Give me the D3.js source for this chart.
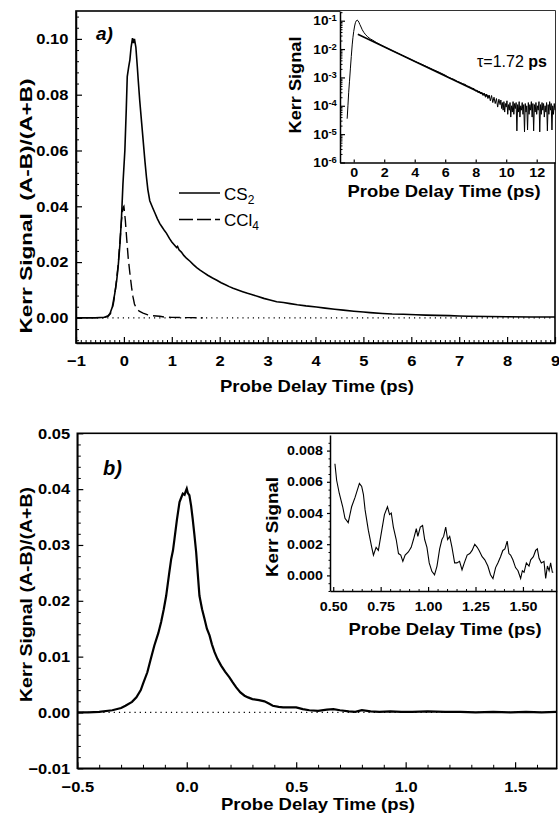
<!DOCTYPE html>
<html>
<head>
<meta charset="utf-8">
<script src="https://cdn.jsdelivr.net/npm/d3@7"></script>
<style>
  body { margin: 0; background: #fff; }
  text { font-family: "Liberation Sans", Arial, sans-serif; fill: #000; }
</style>
</head>
<body>
<svg id="chart"></svg>
<script>
// ---------------------------------------------------------------
// DATA
// ---------------------------------------------------------------

// panel a) main: CS2 and CCl4 Kerr transients
const cs2Time = [-1.0, -0.6, -0.4, -0.33, -0.29, -0.24, -0.19, -0.15, -0.12, -0.08, -0.05, -0.02, 0.02, 0.05, 0.07, 0.10, 0.125, 0.15, 0.18, 0.20, 0.22, 0.25, 0.28, 0.30, 0.33, 0.37, 0.40, 0.44, 0.47, 0.50, 0.54, 0.60, 0.65, 0.70, 0.75, 0.80, 0.85, 0.89, 0.95, 1.00, 1.05, 1.10, 1.12, 1.15, 1.20, 1.25, 1.31, 1.38, 1.45, 1.52, 1.59, 1.66, 1.75, 1.85, 1.94, 2.03, 2.12, 2.20, 2.28, 2.38, 2.48, 2.58, 2.70, 2.80, 2.92, 3.05, 3.19, 3.33, 3.47, 3.62, 3.80, 4.02, 4.20, 4.40, 4.58, 4.80, 5.00, 5.14, 5.40, 5.60, 5.83, 6.10, 6.30, 6.53, 6.80, 7.00, 7.20, 7.60, 8.00, 8.50, 9.00];
const cs2Signal = [0, 0, 0.0002, 0.0008, 0.0016, 0.0040, 0.0088, 0.0135, 0.0183, 0.027, 0.036, 0.048, 0.060, 0.075, 0.0865, 0.090, 0.0925, 0.097, 0.1003, 0.0985, 0.1000, 0.097, 0.090, 0.085, 0.078, 0.070, 0.064, 0.056, 0.0506, 0.046, 0.042, 0.0395, 0.0375, 0.0355, 0.0338, 0.0325, 0.0312, 0.0303, 0.0285, 0.0272, 0.0262, 0.0252, 0.0256, 0.0244, 0.0236, 0.0224, 0.0213, 0.0203, 0.0191, 0.0180, 0.0171, 0.0163, 0.0153, 0.0143, 0.0135, 0.0126, 0.0119, 0.0112, 0.0106, 0.0100, 0.0094, 0.0088, 0.0082, 0.0077, 0.0070, 0.0064, 0.0058, 0.0055, 0.0051, 0.0047, 0.0043, 0.0039, 0.0035, 0.0031, 0.0028, 0.0024, 0.0021, 0.0019, 0.0016, 0.0014, 0.0013, 0.0011, 0.0010, 0.0009, 0.0008, 0.0007, 0.0006, 0.0005, 0.0004, 0.0003, 0.0003];

const ccl4Time = [-0.45, -0.33, -0.28, -0.22, -0.17, -0.12, -0.08, -0.05, -0.02, 0.00, 0.03, 0.06, 0.09, 0.125, 0.16, 0.19, 0.22, 0.26, 0.32, 0.40, 0.50, 0.60, 0.75, 0.85, 1.00, 1.20, 1.40, 1.65];
const ccl4Signal = [0, 0.0005, 0.0015, 0.0050, 0.0110, 0.0190, 0.0280, 0.0350, 0.0395, 0.0400, 0.0350, 0.0280, 0.0215, 0.0160, 0.0110, 0.0075, 0.0050, 0.0034, 0.0024, 0.0017, 0.0011, 0.0008, 0.0006, 0.0003, 0.0002, 0.0001, 0.0001, 0];

// panel a) inset: CS2 on a log scale, with single exponential fit
const logTime = [-0.43, -0.38, -0.33, -0.28, -0.22, -0.16, -0.10, -0.05, 0.00, 0.06, 0.11, 0.17, 0.22, 0.28, 0.34, 0.40, 0.48, 0.56, 0.66, 0.78, 0.92, 1.08, 1.25, 1.50, 1.75, 2.00, 2.30, 2.60, 3.00, 3.30, 3.60, 4.00, 4.40, 4.80, 5.20, 5.60,
    6.00, 6.20, 6.40, 6.60, 6.80, 7.00, 7.15, 7.30, 7.45, 7.60, 7.75, 7.90,
    8.00, 8.08, 8.16, 8.24, 8.32, 8.40, 8.48, 8.56, 8.64, 8.72, 8.80, 8.88, 8.96, 9.04, 9.12, 9.20, 9.28, 9.36, 9.44, 9.52,
    9.60, 9.65, 9.70, 9.75, 9.80, 9.85, 9.90, 9.95, 10.00, 10.05, 10.10, 10.15, 10.20, 10.25, 10.30, 10.35, 10.40, 10.45, 10.50, 10.55, 10.60, 10.65, 10.70, 10.75, 10.80, 10.85, 10.90, 10.95,
    11.00, 11.05, 11.10, 11.15, 11.20, 11.25, 11.30, 11.35, 11.40, 11.45, 11.50, 11.55, 11.60, 11.65, 11.70, 11.75, 11.80, 11.85, 11.90, 11.95,
    12.00, 12.05, 12.10, 12.15, 12.20, 12.25, 12.30, 12.35, 12.40, 12.45, 12.50, 12.55, 12.60, 12.65, 12.70, 12.75, 12.80, 12.85, 12.90, 12.95, 13.00, 13.05, 13.10, 13.15, 13.20];
const logSignal = [3.5e-5, 1.0e-4, 3.0e-4, 7.0e-4, 2.0e-3, 5.5e-3, 0.014, 0.026, 0.042, 0.065, 0.085, 0.100, 0.106, 0.100, 0.088, 0.074, 0.060, 0.048, 0.039, 0.032, 0.027, 0.023, 0.0205, 0.0168, 0.0142, 0.0121, 0.0101, 0.0084, 0.0067, 0.0056, 0.0047, 0.0037, 0.0030, 0.0024, 0.0019, 0.00153,
    1.20e-3, 1.02e-3, 0.92e-3, 0.84e-3, 0.72e-3, 0.66e-3, 0.60e-3, 0.57e-3, 0.50e-3, 0.47e-3, 0.42e-3, 0.40e-3,
    3.3e-4, 3.6e-4, 2.9e-4, 3.3e-4, 2.6e-4, 3.0e-4, 2.3e-4, 2.8e-4, 2.0e-4, 2.6e-4, 1.8e-4, 2.4e-4, 1.5e-4, 2.3e-4, 1.3e-4, 2.0e-4, 1.2e-4, 1.8e-4, 9e-5, 1.7e-4,
    1.1e-4, 1.6e-4, 8e-5, 1.3e-4, 7e-5, 1.4e-4, 6e-5, 1.2e-4, 9e-5, 1.5e-4, 5e-5, 1.1e-4, 7e-5, 1.3e-4, 4e-5, 1.0e-4, 6e-5, 1.4e-4, 5e-5, 1.2e-4, 8e-5, 1.3e-4, 1.3e-5, 1.1e-4, 6e-5, 1.4e-4, 4e-5, 1.0e-4,
    7e-5, 1.3e-4, 5e-5, 1.1e-4, 1.2e-5, 1.2e-4, 6e-5, 1.0e-4, 1.4e-5, 1.3e-4, 5e-5, 1.1e-4, 7e-5, 1.4e-4, 4e-5, 1.2e-4, 1.3e-5, 1.1e-4, 6e-5, 1.3e-4,
    5e-5, 1.0e-4, 7e-5, 1.4e-4, 1.2e-5, 1.1e-4, 5e-5, 1.3e-4, 7e-5, 1.2e-4, 4e-5, 1.0e-4, 6e-5, 1.3e-4, 1.3e-5, 1.1e-4, 5e-5, 1.4e-4, 7e-5, 1.2e-4, 1.4e-5, 1.0e-4, 5e-5, 1.2e-4, 7e-5];
const fitTime = [0.27, 8.93];
const fitSignal = [0.0331, 0.0002];
const tauLabel = "τ=1.72 ";

// panel b) main: CCl4 transient
const bTime = [-0.50, -0.45, -0.40, -0.34, -0.30, -0.28, -0.25, -0.23, -0.21, -0.20, -0.18, -0.165, -0.148, -0.13, -0.117, -0.105, -0.094, -0.08, -0.071, -0.063, -0.056, -0.045, -0.033, -0.025, -0.018, -0.010, -0.004, 0.000, 0.005, 0.012, 0.020, 0.027, 0.035, 0.043, 0.050, 0.058, 0.070, 0.081, 0.092, 0.104, 0.115, 0.127, 0.140, 0.157, 0.175, 0.195, 0.210, 0.226, 0.245, 0.264, 0.28, 0.30, 0.33, 0.355, 0.375, 0.393, 0.42, 0.44, 0.47, 0.50, 0.53, 0.56, 0.60, 0.64, 0.67, 0.70, 0.74, 0.77, 0.80, 0.84, 0.88, 0.93, 0.98, 1.03, 1.10, 1.18, 1.25, 1.32, 1.40, 1.48, 1.55, 1.62, 1.69];
const bSignal = [0, 0, 0.0001, 0.0004, 0.0008, 0.0012, 0.0019, 0.0027, 0.0040, 0.0051, 0.0072, 0.0095, 0.0120, 0.0142, 0.0162, 0.0185, 0.0209, 0.0250, 0.0275, 0.0290, 0.0311, 0.0345, 0.0377, 0.0385, 0.0392, 0.0390, 0.0397, 0.0401, 0.0393, 0.0389, 0.0370, 0.0347, 0.0318, 0.0287, 0.0250, 0.0209, 0.0185, 0.0168, 0.0150, 0.0138, 0.0122, 0.0108, 0.0096, 0.0084, 0.0073, 0.0063, 0.0054, 0.0045, 0.0036, 0.0030, 0.0027, 0.0024, 0.0022, 0.0020, 0.0016, 0.0012, 0.0010, 0.0009, 0.0009, 0.0009, 0.0006, 0.0004, 0.0003, 0.0005, 0.0006, 0.0004, 0.0002, 0.0001, 0.0004, 0.0002, 0.0001, 0.0002, 0.0001, 0.0001, 0.0002, 0.0001, 0.0001, 0, 0.0001, 0, 0.0001, 0, 0.0001];

// panel b) inset: oscillating tail
const oscTime = [0.509, 0.518, 0.532, 0.550, 0.562, 0.579, 0.597, 0.615, 0.638, 0.650, 0.659, 0.668, 0.685, 0.703, 0.712, 0.726, 0.738, 0.756, 0.770, 0.786, 0.797, 0.806, 0.817, 0.832, 0.844, 0.856, 0.867, 0.879, 0.896, 0.911, 0.923, 0.938, 0.946, 0.959, 0.971, 0.982, 0.994, 1.006, 1.020, 1.034, 1.047, 1.061, 1.073, 1.082, 1.093, 1.103, 1.114, 1.126, 1.140, 1.152, 1.166, 1.179, 1.191, 1.206, 1.220, 1.232, 1.246, 1.259, 1.269, 1.285, 1.299, 1.315, 1.329, 1.342, 1.356, 1.368, 1.382, 1.394, 1.405, 1.417, 1.426, 1.435, 1.447, 1.461, 1.474, 1.488, 1.497, 1.506, 1.518, 1.532, 1.541, 1.555, 1.567, 1.576, 1.585, 1.597, 1.611, 1.620, 1.629, 1.638, 1.646, 1.655, 1.660];
const oscSignal = [0.00716, 0.0061, 0.00525, 0.0044, 0.00366, 0.00338, 0.0044, 0.0050, 0.0059, 0.0057, 0.0052, 0.0042, 0.0029, 0.0018, 0.0013, 0.0018, 0.0016, 0.0029, 0.0039, 0.0044, 0.0039, 0.0040, 0.0031, 0.0023, 0.0014, 0.0013, 0.0009, 0.0013, 0.0015, 0.0018, 0.0023, 0.0030, 0.0025, 0.0031, 0.0032, 0.0023, 0.0018, 0.0008, 0.00026, 0.00004, 0.0006, 0.0017, 0.0023, 0.0025, 0.0031, 0.0023, 0.0025, 0.0018, 0.0008, 0.0008, 0.0009, 0.00036, 0.0008, 0.0013, 0.0014, 0.0016, 0.0020, 0.0018, 0.0016, 0.0012, 0.0010, 0.0006, 0.00004, -0.0002, 0.0005, 0.0008, 0.0012, 0.0016, 0.0017, 0.0022, 0.0014, 0.0013, 0.0010, 0.0005, 0.0003, -0.0002, 0.0003, 0.0002, 0.0008, 0.0006, 0.0010, 0.0012, 0.0016, 0.0017, 0.0011, 0.0008, 0.0009, -0.0002, 0.0006, 0.0003, 0.0008, 0.0002, 0.0002];

// axis tick labels
const aTicksX = [-1, 0, 1, 2, 3, 4, 5, 6, 7, 8, 9];
const aTicksY = [0, 0.02, 0.04, 0.06, 0.08, 0.10];
const insetATicksX = [0, 2, 4, 6, 8, 10, 12];
const insetATicksY = [1e-1, 1e-2, 1e-3, 1e-4, 1e-5, 1e-6];
const insetAExp = ["-1", "-2", "-3", "-4", "-5", "-6"];
const bTicksX = [-0.5, 0.0, 0.5, 1.0, 1.5];
const bTicksY = [-0.01, 0, 0.01, 0.02, 0.03, 0.04, 0.05];
const insetBTicksX = [0.50, 0.75, 1.00, 1.25, 1.50];
const insetBTicksY = [0, 0.002, 0.004, 0.006, 0.008];

// ---------------------------------------------------------------
// SVG
// ---------------------------------------------------------------
const width = 559, height = 814;
const svg = d3.select("#chart").attr("width", width).attr("height", height);

const toPts = (xs, ys) => xs.map((x, i) => [x, ys[i]]);

function addText(x, y, str, o = {}) {
    let tr = `translate(${x},${y})`;
    if (o.rotate) tr += ` rotate(${o.rotate})`;
    if (o.sx) tr += ` scale(${o.sx},1)`;
    const t = svg.append("text")
        .attr("transform", tr)
        .attr("text-anchor", o.anchor || "middle")
        .attr("font-size", o.size || 17)
        .attr("font-weight", o.weight || "bold")
        .attr("font-style", o.style || "normal")
        .style("white-space", "pre")
        .text(str);
    if (o.len) t.attr("textLength", o.len).attr("lengthAdjust", "spacingAndGlyphs");
    return t;
}

function styleAxis(g, size, sx) {
    g.attr("font-family", null).attr("font-size", size).attr("font-weight", "bold");
    g.selectAll(".tick text").attr("transform", `scale(${sx},1)`);
    g.selectAll(".tick line").attr("stroke-width", 1.2);
    g.select(".domain").attr("stroke-width", 1.5);
}

function minorAxis(axisFn, scale, values, size, tr) {
    svg.append("g")
        .attr("transform", tr)
        .call(axisFn(scale).tickValues(values).tickSize(size).tickFormat(""))
        .call(g => g.select(".domain").remove())
        .call(g => g.selectAll(".tick line").attr("stroke-width", 1));
}

// ---------------------------------------------------------------
// PANEL a) MAIN
// ---------------------------------------------------------------
const xA = d3.scaleLinear().domain([-1, 9]).range([76, 555]);
const yA = d3.scaleLinear().domain([-0.009, 0.11]).range([343, 11]);

svg.append("line")
    .attr("x1", xA(-1)).attr("x2", xA(9)).attr("y1", yA(0)).attr("y2", yA(0))
    .attr("stroke", "#000").attr("stroke-width", 1.2).attr("stroke-dasharray", "1.2,4");

minorAxis(d3.axisBottom, xA, d3.range(-10, 91).filter(i => i % 10).map(i => i / 10), -3, `translate(0,${yA.range()[0]})`);
minorAxis(d3.axisLeft, yA, d3.range(-2, 28).filter(i => i % 5).map(i => i * 0.004), -3, `translate(${xA.range()[0]},0)`);

svg.append("g")
    .attr("transform", `translate(0,${yA.range()[0]})`)
    .call(d3.axisBottom(xA).tickValues(aTicksX).tickSizeInner(-6).tickSizeOuter(0).tickPadding(12).tickFormat(d3.format("d")))
    .call(g => styleAxis(g, 15, 1.1));

svg.append("g")
    .attr("transform", `translate(${xA.range()[0]},0)`)
    .call(d3.axisLeft(yA).tickValues(aTicksY).tickSizeInner(-6).tickSizeOuter(0).tickPadding(7).tickFormat(d3.format(".2f")))
    .call(g => styleAxis(g, 15, 1.1));

svg.append("rect")
    .attr("x", xA.range()[0]).attr("y", yA.range()[1])
    .attr("width", xA.range()[1] - xA.range()[0]).attr("height", yA.range()[0] - yA.range()[1])
    .attr("fill", "none").attr("stroke", "#000").attr("stroke-width", 1.6);

const lineA = d3.line().x(d => xA(d[0])).y(d => yA(d[1])).curve(d3.curveLinear);

svg.append("path").datum(toPts(ccl4Time, ccl4Signal))
    .attr("d", lineA).attr("fill", "none").attr("stroke", "#000")
    .attr("stroke-width", 1.4).attr("stroke-dasharray", "11,5");

svg.append("path").datum(toPts(cs2Time, cs2Signal))
    .attr("d", lineA).attr("fill", "none").attr("stroke", "#000").attr("stroke-width", 1.6);

// legend
svg.append("line").attr("x1", 179).attr("x2", 220).attr("y1", 193).attr("y2", 193)
    .attr("stroke", "#000").attr("stroke-width", 1.4);
svg.append("line").attr("x1", 179).attr("x2", 220).attr("y1", 219.5).attr("y2", 219.5)
    .attr("stroke", "#000").attr("stroke-width", 1.4).attr("stroke-dasharray", "14,4");
const lg1 = addText(224, 200, "CS", { anchor: "start", weight: "normal", size: 17 });
lg1.append("tspan").attr("dy", 4).attr("font-size", 12).text("2");
const lg2 = addText(224, 226, "CCl", { anchor: "start", weight: "normal", size: 17 });
lg2.append("tspan").attr("dy", 4).attr("font-size", 12).text("4");

addText(96, 40, "a)", { anchor: "start", size: 19, style: "italic" });
addText(317, 392, "Probe Delay Time (ps)", { len: 194 });
addText(31.5, 206, "Kerr Signal  (A-B)/(A+B)", { rotate: -90, len: 255 });

// ---------------------------------------------------------------
// PANEL a) INSET (log scale)
// ---------------------------------------------------------------
const xI = d3.scaleLinear().domain([-0.9, 13.2]).range([340, 555]);
const yI = d3.scaleLog().domain([1e-6, 0.22]).range([162.5, 11]);

svg.append("rect")
    .attr("x", xI.range()[0]).attr("y", yI.range()[1])
    .attr("width", xI.range()[1] - xI.range()[0]).attr("height", yI.range()[0] - yI.range()[1])
    .attr("fill", "#fff");

const logMinor = [];
[-6, -5, -4, -3, -2, -1].forEach(e => d3.range(2, 10).forEach(k => {
    const v = k * Math.pow(10, e);
    if (v < 0.22) logMinor.push(v);
}));
minorAxis(d3.axisLeft, yI, logMinor, -2.5, `translate(${xI.range()[0]},0)`);

svg.append("g")
    .attr("transform", `translate(${xI.range()[0]},0)`)
    .call(d3.axisLeft(yI).tickValues(insetATicksY).tickSizeInner(-5).tickSizeOuter(0).tickPadding(3).tickFormat(() => "10"))
    .call(g => styleAxis(g, 13, 1.05))
    .call(g => g.selectAll(".tick text").append("tspan")
        .attr("dy", "-0.45em").attr("font-size", 9).text((d, i) => insetAExp[i]));

svg.append("g")
    .attr("transform", `translate(0,${yI.range()[0]})`)
    .call(d3.axisBottom(xI).tickValues(insetATicksX).tickSizeInner(-3).tickSizeOuter(0).tickPadding(5).tickFormat(d3.format("d")))
    .call(g => styleAxis(g, 13, 1.1));

const lineI = d3.line().x(d => xI(d[0])).y(d => yI(d[1]));
svg.append("path").datum(toPts(logTime, logSignal))
    .attr("d", lineI).attr("fill", "none").attr("stroke", "#000").attr("stroke-width", 1);
svg.append("path").datum(toPts(fitTime, fitSignal))
    .attr("d", lineI).attr("fill", "none").attr("stroke", "#000").attr("stroke-width", 1.6);

const tau = svg.append("text")
    .attr("x", 477).attr("y", 67)
    .attr("font-family", "'Liberation Serif', 'Times New Roman', serif")
    .attr("font-size", 16)
    .style("white-space", "pre")
    .text(tauLabel);
tau.append("tspan").attr("font-family", "'Liberation Sans', Arial, sans-serif").attr("font-weight", "bold").text("ps");

addText(444, 197, "Probe Delay Time (ps)", { len: 193 });
addText(301, 85, "Kerr Signal", { rotate: -90, len: 97 });

// ---------------------------------------------------------------
// PANEL b) MAIN
// ---------------------------------------------------------------
const xB = d3.scaleLinear().domain([-0.5, 1.69]).range([77.3, 556.7]);
const yB = d3.scaleLinear().domain([-0.01, 0.05]).range([768.3, 433.3]);

svg.append("line")
    .attr("x1", xB(-0.5)).attr("x2", xB(1.69)).attr("y1", yB(0)).attr("y2", yB(0))
    .attr("stroke", "#000").attr("stroke-width", 1.2).attr("stroke-dasharray", "1.2,4");

minorAxis(d3.axisBottom, xB, d3.range(-5, 17).filter(i => i % 5).map(i => i / 10), -3.5, `translate(0,${yB.range()[0]})`);
minorAxis(d3.axisLeft, yB, d3.range(-5, 25).filter(i => i % 5).map(i => i * 0.002), -3.5, `translate(${xB.range()[0]},0)`);

svg.append("g")
    .attr("transform", `translate(0,${yB.range()[0]})`)
    .call(d3.axisBottom(xB).tickValues(bTicksX).tickSizeInner(-6).tickSizeOuter(0).tickPadding(13).tickFormat(d3.format(".1f")))
    .call(g => styleAxis(g, 15, 1.1));

svg.append("g")
    .attr("transform", `translate(${xB.range()[0]},0)`)
    .call(d3.axisLeft(yB).tickValues(bTicksY).tickSizeInner(-6).tickSizeOuter(0).tickPadding(6.5).tickFormat(d3.format(".2f")))
    .call(g => styleAxis(g, 15, 1.1));

svg.append("rect")
    .attr("x", xB.range()[0]).attr("y", yB.range()[1])
    .attr("width", xB.range()[1] - xB.range()[0]).attr("height", yB.range()[0] - yB.range()[1])
    .attr("fill", "none").attr("stroke", "#000").attr("stroke-width", 1.6);

const lineB = d3.line().x(d => xB(d[0])).y(d => yB(d[1]));
svg.append("path").datum(toPts(bTime, bSignal))
    .attr("d", lineB).attr("fill", "none").attr("stroke", "#000").attr("stroke-width", 2.2);

addText(103, 475, "b)", { anchor: "start", size: 20, style: "italic" });
addText(318, 809.5, "Probe Delay Time (ps)", { len: 194 });
addText(31.5, 594.5, "Kerr Signal (A-B)/(A+B)", { rotate: -90, len: 215 });

// ---------------------------------------------------------------
// PANEL b) INSET
// ---------------------------------------------------------------
const xO = d3.scaleLinear().domain([0.483, 1.678]).range([330, 556.7]);
const yO = d3.scaleLinear().domain([-0.001, 0.009]).range([591, 435]);

minorAxis(d3.axisBottom, xO, d3.range(10, 34).filter(i => i % 5).map(i => i * 0.05), -2, `translate(0,${yO.range()[0]})`);
minorAxis(d3.axisLeft, yO, d3.range(-2, 18).filter(i => i % 4).map(i => i * 0.0005), 1.5, `translate(${xO.range()[0]},0)`);

svg.append("g")
    .attr("transform", `translate(0,${yO.range()[0]})`)
    .call(d3.axisBottom(xO).tickValues(insetBTicksX).tickSizeInner(-4).tickSizeOuter(0).tickPadding(11).tickFormat(d3.format(".2f")))
    .call(g => styleAxis(g, 13, 1.1));

svg.append("g")
    .attr("transform", `translate(${xO.range()[0]},0)`)
    .call(d3.axisLeft(yO).tickValues(insetBTicksY).tickSizeInner(3).tickSizeOuter(0).tickPadding(3.5).tickFormat(d3.format(".3f")))
    .call(g => styleAxis(g, 13, 1.1));

const lineO = d3.line().x(d => xO(d[0])).y(d => yO(d[1]));
svg.append("path").datum(toPts(oscTime, oscSignal))
    .attr("d", lineO).attr("fill", "none").attr("stroke", "#000").attr("stroke-width", 1.1);

addText(445, 635, "Probe Delay Time (ps)", { len: 193 });
addText(278, 527, "Kerr Signal", { rotate: -90, len: 100 });
</script>
</body>
</html>
